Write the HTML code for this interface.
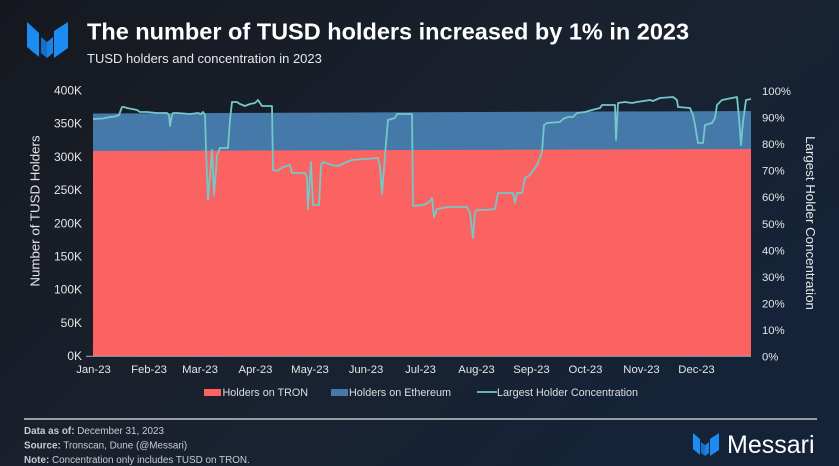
<!DOCTYPE html>
<html><head><meta charset="utf-8">
<style>
html,body{margin:0;padding:0;}
body{width:839px;height:466px;overflow:hidden;background:#171c26;}
svg{display:block;}
text{font-family:"Liberation Sans",Arial,sans-serif;}
</style></head>
<body>
<svg width="839" height="466" viewBox="0 0 839 466" xmlns="http://www.w3.org/2000/svg">
<defs>
<linearGradient id="bg" x1="0" y1="0" x2="1" y2="0.6">
<stop offset="0" stop-color="#15181f"/>
<stop offset="0.5" stop-color="#1a212d"/>
<stop offset="1" stop-color="#142338"/>
</linearGradient>
</defs>
<rect width="839" height="466" fill="url(#bg)"/>

<!-- logo -->
<g fill="#1d8cf0">
<polygon points="27,22 39,33 39,57 27,47"/>
<polygon points="41,37 47,42 47,58 41,53" fill="#1670c8"/>
<polygon points="47,42 53,37 53,53 47,58" fill="#1a82e0"/>
<polygon points="54,31 68,22 68,48 54,58"/>
</g>

<text x="87" y="39.5" font-size="23.5" font-weight="bold" fill="#ffffff">The number of TUSD holders increased by 1% in 2023</text>
<text x="87" y="63" font-size="13" fill="#e6e8ea">TUSD holders and concentration in 2023</text>

<!-- areas -->
<polygon points="93,113.5 751,111 751,356 93,356" fill="#4479aa"/>
<polygon points="93,151 751,149 751,356 93,356" fill="#fb6262"/>
<line x1="93" y1="356.3" x2="751" y2="356.3" stroke="#a9adb3" stroke-width="1"/>
<line x1="86" y1="356.3" x2="93" y2="356.3" stroke="#a9adb3" stroke-width="1"/>

<!-- concentration line -->
<polyline fill="none" stroke="#73c8c8" stroke-width="1.8" stroke-linejoin="round" points="93,119 103,118.5 110,117 115,116.5 119,115 122,107 124,107 127,108 137,110 140,112 147,112 157,113 167,113 169,115 170,126 172,115 173,113 177,113 190,114 198,113 201,114 203,112 205,115 206,150 208,200 210,175 212,150 214,195 216,170 217,155 220,148 228,148 230,120 232,102 237,102 240,104 245,106 250,104 255,103 258,100 262,106 272,106 273,170 277,171 283,167 290,165 292,173 305,173 307,178 308,209 311,162 313,205 319,205 321,165 323,162 332,165 338,166 347,162 352,160 378,158 380,167 382,194 386,143 388,120 395,118 397,114 412,114 413,206 423,205 428,203 432,198 434,217 437,209 448,207 467,207 470,213 473,238 475,212 477,210 485,210 495,209 498,193 513,193 515,203 517,193 522,193 525,178 530,175 535,168 538,163 542,152 544,125 547,123 560,122 563,119 568,117 573,117 577,113 585,112 592,110 600,108 602,105 615,105 616,140 618,103 625,102 632,103 637,102 650,100 653,101 660,98 673,97 677,100 678,107 690,108 693,115 695,125 698,143 703,143 705,125 712,123 715,118 717,105 722,100 737,97 739,118 741,145 743,122 746,100 751,99"/>

<!-- left axis ticks -->
<g font-size="12" fill="#e4e6e8" text-anchor="end">
<text x="82" y="94.5">400K</text>
<text x="82" y="127.7">350K</text>
<text x="82" y="161">300K</text>
<text x="82" y="194">250K</text>
<text x="82" y="227.3">200K</text>
<text x="82" y="260.5">150K</text>
<text x="82" y="293.7">100K</text>
<text x="82" y="326.8">50K</text>
<text x="82" y="360">0K</text>
</g>
<!-- right axis ticks -->
<g font-size="11.3" fill="#e4e6e8">
<text x="762" y="95">100%</text>
<text x="762" y="121.5">90%</text>
<text x="762" y="148">80%</text>
<text x="762" y="174.6">70%</text>
<text x="762" y="201.2">60%</text>
<text x="762" y="227.8">50%</text>
<text x="762" y="254.4">40%</text>
<text x="762" y="281">30%</text>
<text x="762" y="307.6">20%</text>
<text x="762" y="334.2">10%</text>
<text x="762" y="360.5">0%</text>
</g>
<!-- axis titles -->
<text transform="translate(39.5,211) rotate(-90)" font-size="13.3" fill="#e4e6e8" text-anchor="middle">Number of TUSD Holders</text>
<text transform="translate(806,223) rotate(90)" font-size="13.3" fill="#e4e6e8" text-anchor="middle">Largest Holder Concentration</text>

<!-- x labels -->
<g font-size="11.3" fill="#e4e6e8" text-anchor="middle">
<text x="93.5" y="373">Jan-23</text>
<text x="149" y="373">Feb-23</text>
<text x="200" y="373">Mar-23</text>
<text x="255.5" y="373">Apr-23</text>
<text x="310" y="373">May-23</text>
<text x="366" y="373">Jun-23</text>
<text x="420.5" y="373">Jul-23</text>
<text x="476.5" y="373">Aug-23</text>
<text x="531.5" y="373">Sep-23</text>
<text x="585.5" y="373">Oct-23</text>
<text x="641.5" y="373">Nov-23</text>
<text x="696.5" y="373">Dec-23</text>
</g>

<!-- legend -->
<rect x="204" y="389" width="17" height="7" fill="#fb6262"/>
<text x="222.5" y="396" font-size="10.8" fill="#dcdee0">Holders on TRON</text>
<rect x="331" y="389" width="17" height="7" fill="#4479aa"/>
<text x="349" y="396" font-size="10.8" fill="#dcdee0">Holders on Ethereum</text>
<line x1="477" y1="392" x2="497" y2="392" stroke="#73c8c8" stroke-width="1.8"/>
<text x="497" y="396" font-size="10.8" fill="#dcdee0">Largest Holder Concentration</text>

<!-- rule -->
<line x1="24" y1="419" x2="817" y2="419" stroke="#c4c8cc" stroke-width="1.5"/>

<!-- footer -->
<g font-size="9.9" fill="#c9ccd1">
<text x="24" y="434"><tspan font-weight="bold">Data as of:</tspan> December 31, 2023</text>
<text x="24" y="448.5"><tspan font-weight="bold">Source:</tspan> Tronscan, Dune (@Messari)</text>
<text x="24" y="463"><tspan font-weight="bold">Note:</tspan> Concentration only includes TUSD on TRON.</text>
</g>

<!-- messari brand -->
<g fill="#1d8cf0">
<polygon points="693,433 700,439 700,455 693,449"/>
<polygon points="701,442 705,445 705,456 701,453" fill="#1670c8"/>
<polygon points="705,445 709,442 709,453 705,456" fill="#1a82e0"/>
<polygon points="710,439 719,433 719,450 710,456"/>
</g>
<text x="727" y="453" font-size="25" fill="#ffffff">Messari</text>
</svg>
</body></html>
